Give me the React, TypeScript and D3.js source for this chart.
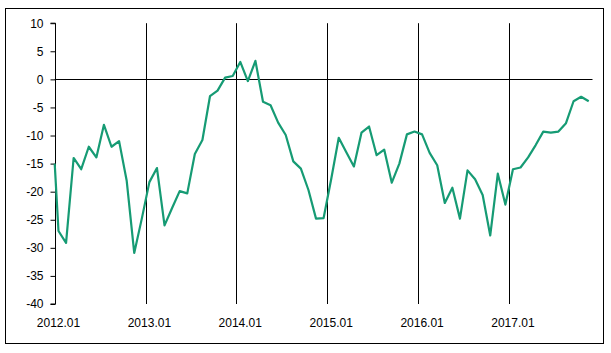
import { useRef, useEffect } from 'react';
import * as d3 from 'd3';

// monthly categories, 2012.01 .. 2017.11
const years = [2012, 2013, 2014, 2015, 2016, 2017];
const months = ['01', '02', '03', '04', '05', '06', '07', '08', '09', '10', '11', '12'];
const categories = years.flatMap((yr) => months.map((m) => `${yr}.${m}`)).slice(0, 71);

// index value
const values = [
  -27.0, -29.1, -14.0, -16.0, -12.0, -13.9, -8.1, -12.0, -11.0, -18.0, -30.9, -24.8,
  -18.3, -15.8, -26.0, -22.9, -19.9, -20.3, -13.3, -10.8, -3.0, -2.0, 0.3, 0.6,
  3.1, -0.3, 3.3, -4.0, -4.6, -7.7, -9.9, -14.6, -15.9, -19.7, -24.8, -24.7,
  -17.8, -10.4, -13.0, -15.5, -9.5, -8.4, -13.5, -12.5, -18.4, -15.0, -9.8, -9.3,
  -9.8, -13.1, -15.3, -22.0, -19.3, -24.8, -16.2, -17.8, -20.6, -27.8, -16.8, -22.3,
  -16.0, -15.7, -13.9, -11.7, -9.3, -9.5, -9.3, -7.8, -3.9, -3.1, -3.9,
];

// the line enters the plot at the y axis at this level
const axisStartValue = -15;

const yTicks = [10, 5, 0, -5, -10, -15, -20, -25, -30, -35, -40];
const xTickLabels = ['2012.01', '2013.01', '2014.01', '2015.01', '2016.01', '2017.01'];
// vertical rules sit between Dec and Jan
const yearBreaks = ['2013.01', '2014.01', '2015.01', '2016.01', '2017.01'];

const WIDTH = 611;
const HEIGHT = 353;
const LINE_COLOR = '#169b74';
const FONT = '"Liberation Sans", Arial, sans-serif';

export default function App() {
  const svgRef = useRef<SVGSVGElement>(null);

  useEffect(() => {
    if (!svgRef.current) return;
    const svg = d3.select(svgRef.current);
    svg.selectAll('*').remove();

    const left = 54.7;
    const right = 592.5;
    const top = 23.2;
    const bottom = 304;

    const x = d3.scaleBand<string>().domain(categories).range([left, right]).padding(0);
    const y = d3.scaleLinear().domain([-40, 10]).range([bottom, top]);
    const cx = (c: string) => (x(c) ?? 0) + x.bandwidth() / 2;

    // outer frame
    svg
      .append('rect')
      .attr('x', 5.5)
      .attr('y', 8.5)
      .attr('width', 598)
      .attr('height', 335)
      .attr('fill', '#fff')
      .attr('stroke', '#000')
      .attr('stroke-width', 1);

    // year rules
    svg
      .append('g')
      .selectAll('line')
      .data(yearBreaks)
      .enter()
      .append('line')
      .attr('x1', (d) => Math.round(x(d) ?? 0) + 0.5)
      .attr('x2', (d) => Math.round(x(d) ?? 0) + 0.5)
      .attr('y1', y(10))
      .attr('y2', y(-40))
      .attr('stroke', '#000')
      .attr('stroke-width', 1);

    // zero line
    svg
      .append('line')
      .attr('x1', left)
      .attr('x2', right)
      .attr('y1', Math.round(y(0)) + 0.5)
      .attr('y2', Math.round(y(0)) + 0.5)
      .attr('stroke', '#000')
      .attr('stroke-width', 1);

    // Y axis
    svg
      .append('g')
      .attr('transform', `translate(${Math.round(left) + 0.5},0)`)
      .call(d3.axisLeft(y).tickValues(yTicks).tickSize(5).tickPadding(7).tickFormat((d) => `${d}`))
      .call((g) => g.select('.domain').attr('stroke', '#000').attr('d', `M-5,${y(10)}H0V${y(-40)}H-5`))
      .call((g) => g.selectAll('.tick line').attr('stroke', '#000'))
      .call((g) =>
        g
          .selectAll('.tick text')
          .attr('fill', '#000')
          .attr('font-size', '12px')
          .attr('font-family', FONT)
      );

    // X labels
    svg
      .append('g')
      .selectAll('text')
      .data(xTickLabels)
      .enter()
      .append('text')
      .attr('x', (d) => cx(d))
      .attr('y', 326.5)
      .attr('text-anchor', 'middle')
      .attr('fill', '#000')
      .attr('font-size', '12px')
      .attr('font-family', FONT)
      .text((d) => d);

    // series
    const pts: [number, number][] = [
      [left, y(axisStartValue)],
      ...values.map((v, i) => [cx(categories[i]), y(v)] as [number, number]),
    ];
    svg
      .append('path')
      .attr('d', d3.line()(pts))
      .attr('fill', 'none')
      .attr('stroke', LINE_COLOR)
      .attr('stroke-width', 2.2)
      .attr('stroke-linejoin', 'round');
  }, []);

  return (
    <svg
      ref={svgRef}
      width={WIDTH}
      height={HEIGHT}
      style={{ position: 'absolute', left: 0, top: 0, background: '#fff' }}
    />
  );
}
